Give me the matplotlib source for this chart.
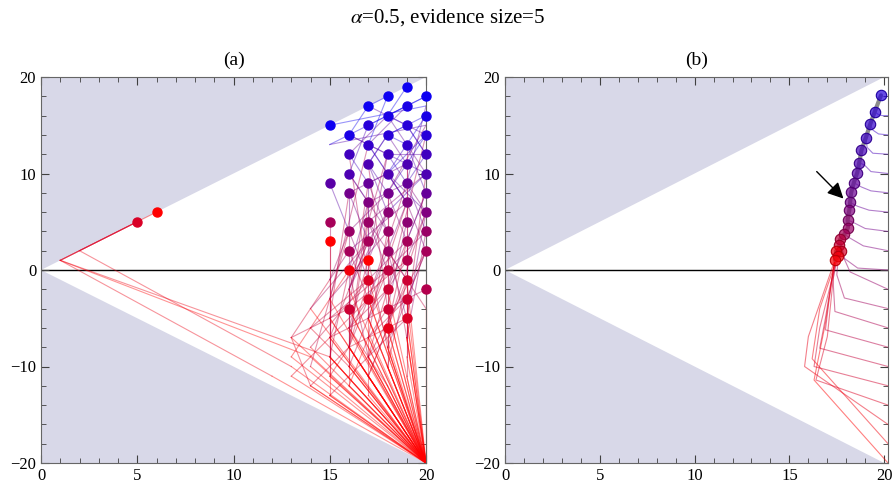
import matplotlib
matplotlib.use('Agg')
import matplotlib.pyplot as plt
from matplotlib.patches import Polygon
from matplotlib.ticker import MultipleLocator

plt.rcParams['font.family'] = ['Liberation Serif', 'DejaVu Serif']
plt.rcParams['mathtext.fontset'] = 'stix'

# panel (a): final states (lattice points) and their red->blue value
a_x = [5, 6, 15, 15, 15, 15,
       16, 16, 16, 16, 16, 16, 16, 16,
       17, 17, 17, 17, 17, 17, 17, 17, 17, 17, 17,
       18, 18, 18, 18, 18, 18, 18, 18, 18, 18, 18, 18, 18,
       19, 19, 19, 19, 19, 19, 19, 19, 19, 19, 19, 19, 19,
       20, 20, 20, 20, 20, 20, 20, 20, 20, 20]
a_y = [5, 6, 15, 9, 5, 3,
       14, 12, 10, 8, 4, 2, 0, -4,
       17, 13, 11, 9, 7, 5, 3, 1, -1, -3, 15,
       18, 16, 14, 12, 10, 8, 6, 4, 2, 0, -2, -4, -6,
       19, 17, 15, 13, 11, 9, 7, 5, 3, 1, -1, -3, -5,
       18, 16, 14, 12, 10, 8, 6, 4, 2, -2]
a_t = [0.15, 0.0, 0.95, 0.65, 0.35, 0.0,
       0.9, 0.75, 0.7, 0.55, 0.4, 0.35, 0.05, 0.2,
       0.95, 0.8, 0.7, 0.6, 0.5, 0.4, 0.35, 0.0, 0.15, 0.15, 0.85,
       0.95, 0.9, 0.85, 0.75, 0.7, 0.55, 0.45, 0.4, 0.4, 0.25, 0.2, 0.2, 0.1,
       0.95, 0.9, 0.85, 0.8, 0.7, 0.6, 0.5, 0.45, 0.35, 0.3, 0.2, 0.2, 0.15,
       0.95, 0.9, 0.85, 0.75, 0.7, 0.6, 0.5, 0.4, 0.35, 0.3]

# panel (a): trajectories, each ending on one of the points above
a_paths = [
    [(20, -20), (14, -9), (1, 1), (6, 6)],
    [(20, -20), (13, -10), (2, 2), (5, 5)],
    [(20, -20), (12, -11), (1, 1), (5, 5)],
    [(20, -20), (15, -9), (1, 1), (5, 5)],
    [(20, -20), (15, -13), (15, 3)],
    [(20, -20), (13, -9), (14, -6), (16, 0)],
    [(20, -20), (16, -12), (17, -7), (17, 1)],
    [(20, -20), (15, -11), (16, -8), (17, -1)],
    [(20, -20), (14, -12), (13, -7), (16, -4)],
    [(20, -20), (17, -11), (18, -6)],
    [(20, -20), (16, -8), (19, -5)],
    [(20, -20), (15, -7), (17, -3)],
    [(20, -20), (17, -7), (18, -4)],
    [(20, -20), (19, -11), (19, -3)],
    [(20, -20), (16, -12), (16, -6), (18, -2)],
    [(20, -20), (20, -2)],
    [(20, -20), (18, -10), (19, -1)],
    [(20, -20), (15, -5), (18, 0)],
    [(20, -20), (17, -5), (19, 1)],
    [(20, -20), (13, -7), (15, -1), (16, 2)],
    [(20, -20), (16, -8), (17, -3), (18, 2)],
    [(20, -20), (18, -8), (20, 2)],
    [(20, -20), (14, -4), (17, 3)],
    [(20, -20), (17, -9), (18, -2), (19, 3)],
    [(20, -20), (16, -6), (16, 4)],
    [(20, -20), (15, -11), (15, -3), (18, 4)],
    [(20, -20), (19, -7), (20, 4)],
    [(20, -20), (15, -9), (15, 5)],
    [(20, -20), (17, -5), (17, 5)],
    [(20, -20), (18, -4), (19, 5)],
    [(20, -20), (16, -10), (16, -2), (18, 6)],
    [(20, -20), (19, -5), (20, 6)],
    [(20, -20), (17, -9), (16, 0), (17, 7)],
    [(20, -20), (20, -4), (18, 2), (19, 7)],
    [(20, -20), (15, -9), (15, -1), (16, 4), (16, 8)],
    [(20, -20), (18, -10), (18, -2), (18, 2), (18, 8)],
    [(20, -20), (19, -9), (19, -3), (19, 3), (20, 8)],
    [(20, -20), (14, -8), (17, -1), (16, 4), (15, 9)],
    [(20, -20), (17, -11), (19, -1), (17, 5), (17, 9)],
    [(20, -20), (16, -10), (18, 0), (20, 4), (19, 9)],
    [(20, -20), (15, -7), (17, 3), (17, 7), (16, 10)],
    [(20, -20), (17, -9), (20, 2), (19, 7), (18, 10)],
    [(20, -20), (16, -6), (17, 1), (18, 6), (20, 10)],
    [(20, -20), (19, -7), (19, 3), (18, 8), (17, 11)],
    [(20, -20), (14, -10), (16, 4), (18, 8), (19, 11)],
    [(20, -20), (17, -7), (18, 4), (17, 9), (16, 12)],
    [(20, -20), (18, -6), (20, 6), (19, 9), (18, 12)],
    [(20, -20), (16, -8), (17, 7), (19, 9), (20, 12)],
    [(20, -20), (17, -5), (19, 7), (18, 10), (17, 13)],
    [(20, -20), (15, -5), (16, 8), (18, 10), (19, 13)],
    [(20, -20), (18, -8), (18, 8), (20, 15), (15, 13), (16, 14)],
    [(20, -20), (19, -5), (20, 10), (19, 13), (18, 14)],
    [(20, -20), (16, -4), (17, 9), (19, 11), (20, 14)],
    [(20, -20), (17, -3), (19, 9), (20, 17), (15, 15)],
    [(20, -20), (18, -4), (17, 11), (18, 14), (19, 15)],
    [(20, -20), (20, -4), (20, 12), (19, 15), (18, 16)],
    [(20, -20), (19, -3), (19, 11), (18, 14), (20, 16)],
    [(20, -20), (16, -2), (18, 12), (16, 14), (17, 17)],
    [(20, -20), (17, -1), (16, 12), (18, 16), (19, 17)],
    [(20, -20), (18, -2), (20, 14), (17, 17), (18, 18)],
    [(20, -20), (15, -3), (17, 13), (19, 17), (20, 18)],
    [(20, -20), (19, -1), (19, 13), (18, 16), (19, 19)],
    # extra routes through the mesh
    [(20, -20), (14, -12), (16, -8), (16, -2), (17, 3), (16, 8)],
    [(20, -20), (16, -10), (14, -6), (17, -1), (19, 3)],
    [(20, -20), (17, -13), (17, -7), (19, -3), (20, 2)],
    [(20, -20), (13, -11), (15, -7), (18, -4), (20, -2)],
    [(20, -20), (18, -12), (16, -6), (18, 0), (17, 5)],
    [(20, -20), (15, -13), (17, -9), (19, -5), (18, 2)],
    [(20, -20), (16, -4), (19, 1), (20, 6), (18, 10), (20, 14)],
    [(20, -20), (17, -3), (16, 2), (19, 7), (17, 13), (18, 18)],
    [(20, -20), (18, -6), (19, 3), (20, 8), (19, 13), (20, 16)],
    [(20, -20), (19, -7), (18, 4), (16, 10), (17, 15), (20, 18)],
    [(20, -20), (16, -8), (17, 5), (20, 10), (16, 14), (19, 17)],
    [(20, -20), (18, -8), (17, 1), (18, 12), (20, 12), (19, 15)],
    [(20, -20), (15, -9), (16, 0), (18, 6), (17, 11), (18, 14)],
]

# panel (b): points along the curve
b_x = [19.83, 19.5, 19.26, 19.03, 18.8, 18.68, 18.58, 18.4, 18.26, 18.2,
       18.16, 18.07, 18.09, 17.9, 17.68, 17.63, 17.7, 17.46, 17.54, 17.4]
b_y = [18.1, 16.4, 15.1, 13.7, 12.4, 11.1, 10.1, 9.05, 8.05, 7.0,
       6.2, 5.2, 4.4, 3.7, 3.2, 2.6, 2.0, 1.97, 1.4, 1.04]
b_t = [0.85, 0.82, 0.8, 0.77, 0.73, 0.7, 0.67, 0.62, 0.58, 0.55,
       0.5, 0.45, 0.4, 0.35, 0.25, 0.2, 0.15, 0.05, 0.05, 0.02]

# panel (b): trajectories from the right edge
b_paths = [
    [(20.2, 16), (19.9, 16.0), (19.7, 16.1), (19.5, 16.4)],
    [(20.2, 14), (19.7, 14.1), (19.4, 14.5), (19.26, 15.1)],
    [(20.2, 12), (19.4, 12.1), (19.1, 12.7), (19.03, 13.7)],
    [(20.2, 10), (19.3, 10.2), (18.95, 10.9), (18.68, 11.1)],
    [(20.2, 8), (19.3, 8.2), (18.8, 8.6), (18.4, 9.05)],
    [(20.2, 6), (19.2, 6.2), (18.6, 6.6), (18.2, 7.0)],
    [(20.2, 4), (19.0, 4.3), (18.4, 4.9), (18.07, 5.2)],
    [(20.2, 2), (18.9, 2.5), (18.2, 3.3), (17.9, 3.7)],
    [(20.2, 0), (18.6, 0.2), (17.9, 1.2), (17.68, 3.2)],
    [(20.2, -2), (18.2, -0.2), (17.7, 2.0)],
    [(20.2, -4), (17.9, -2.9), (17.5, -0.5), (17.63, 2.6)],
    [(20.2, -6), (17.4, -4.3), (17.3, -1.0), (17.54, 1.4)],
    [(20.2, -8), (16.9, -6.2), (17.1, -3.0), (17.46, 1.97)],
    [(20.2, -10), (16.6, -8.1), (16.9, -5.0), (17.4, 1.04)],
    [(20.2, -12), (16.3, -10.0), (16.6, -6.0), (17.54, 1.4)],
    [(20.2, -14), (16.4, -11.4), (17.0, -6.9), (17.46, 1.97)],
    [(20.2, -16), (15.8, -10.0), (16.0, -6.9), (17.4, 1.04)],
    [(20.2, -18), (16.2, -9.2), (16.6, -4.0), (17.54, 1.4)],
    [(20.2, -20), (16.3, -11.4), (16.9, -5.5), (17.46, 1.97)],
]

shade = '#d8d8e8'


def rb(t, a=1.0):
    return (1 - t, 0, t, a)


def frame(ax, xmax, title):
    ax.set_xlim(0, xmax)
    ax.set_ylim(-20, 20)
    ax.add_patch(Polygon([(0, 0), (20, 20), (0, 20)], closed=True, fc=shade, ec='none', zorder=0))
    ax.add_patch(Polygon([(0, 0), (20, -20), (0, -20)], closed=True, fc=shade, ec='none', zorder=0))
    ax.axhline(0, color='k', lw=1, zorder=1)
    ax.xaxis.set_major_locator(MultipleLocator(5))
    ax.xaxis.set_minor_locator(MultipleLocator(1))
    ax.yaxis.set_major_locator(MultipleLocator(10))
    ax.yaxis.set_minor_locator(MultipleLocator(2))
    ax.tick_params(which='both', direction='in', top=True, right=True, labelsize=12, color='0.25')
    ax.tick_params(which='major', length=6)
    ax.tick_params(which='minor', length=3.5)
    for s in ax.spines.values():
        s.set_color('0.4')
    ax.set_title(title, fontsize=14, pad=9)


fig = plt.figure(figsize=(8.96, 4.87), dpi=100)
ax1 = fig.add_axes([41 / 896, 24 / 487, 385 / 896, 386 / 487])
ax2 = fig.add_axes([505 / 896, 24 / 487, 383 / 896, 386 / 487])

# (a)
frame(ax1, 20, '(a)')
tmap = {(x, y): t for x, y, t in zip(a_x, a_y, a_t)}
for p in a_paths:
    t_end = tmap[p[-1]]
    n = len(p)
    for k in range(n - 1):
        tk = t_end * k / max(n - 2, 1)
        ax1.plot([p[k][0], p[k + 1][0]], [p[k][1], p[k + 1][1]],
                 color=rb(tk), alpha=0.42, lw=0.8, zorder=2, clip_on=False)
for x, y, t in zip(a_x, a_y, a_t):
    ax1.plot(x, y, 'o', ms=6.5, color=rb(t), mec=rb(t), zorder=3, clip_on=False)

# (b)
frame(ax2, 20.2, '(b)')
for p in b_paths:
    t = max(0, (p[0][1] + 20) / 44)
    ax2.plot([q[0] for q in p], [q[1] for q in p], color=rb(t), alpha=0.5, lw=0.8, zorder=2)
ax2.plot(b_x, b_y, color='0.55', lw=3, zorder=3, solid_capstyle='round')
for x, y, t in zip(b_x, b_y, b_t):
    ax2.plot(x, y, 'o', ms=7.5, mfc=rb(t, 0.7), mec=(0.75 * (1 - t), 0, 0.75 * t), mew=0.8, zorder=4)
ax2.annotate('', xy=(17.85, 7.4), xytext=(16.44, 10.2),
             arrowprops=dict(arrowstyle='-|>', color='k', lw=1, mutation_scale=24,
                             shrinkA=0, shrinkB=0), zorder=5)

fig.text(0.5, 1 - 18 / 487, r'$\alpha$=0.5, evidence size=5', ha='center', va='center', fontsize=15)

fig.savefig('out.png', dpi=100)
